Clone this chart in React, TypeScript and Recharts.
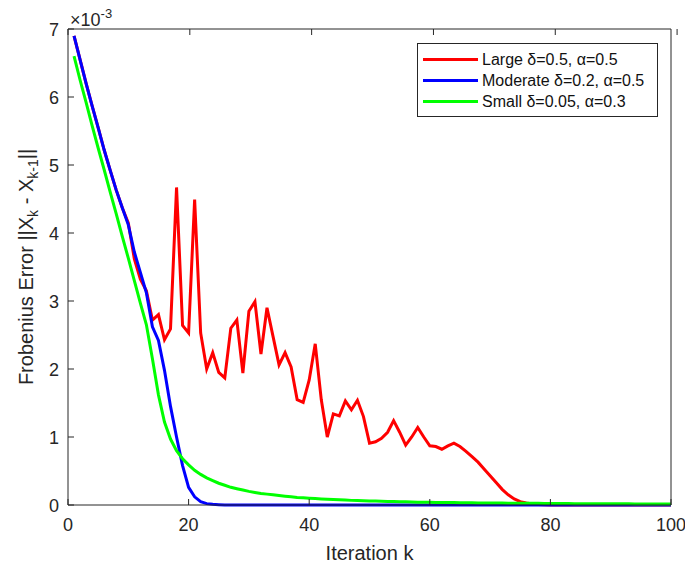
import { LineChart, Line, XAxis, YAxis, Legend } from "recharts"

const iterations = [
  1, 2, 3, 4, 5, 6, 7, 8, 9, 10,
  11, 12, 13, 14, 15, 16, 17, 18, 19, 20,
  21, 22, 23, 24, 25, 26, 27, 28, 29, 30,
  31, 32, 33, 34, 35, 36, 37, 38, 39, 40,
  41, 42, 43, 44, 45, 46, 47, 48, 49, 50,
  51, 52, 53, 54, 55, 56, 57, 58, 59, 60,
  61, 62, 63, 64, 65, 66, 67, 68, 69, 70,
  71, 72, 73, 74, 75, 76, 77, 78, 79, 80,
  81, 82, 83, 84, 85, 86, 87, 88, 89, 90,
  91, 92, 93, 94, 95, 96, 97, 98, 99, 100,
]

// values in units of 1e-3
const large = [
  6.9, 6.55, 6.2, 5.87, 5.55, 5.22, 4.92, 4.63, 4.37, 4.15,
  3.62, 3.32, 3.15, 2.72, 2.8, 2.43, 2.59, 4.67, 2.64, 2.53,
  4.49, 2.53, 2.0, 2.24, 1.95, 1.87, 2.6, 2.72, 1.94, 2.85,
  2.99, 2.22, 2.9, 2.48, 2.06, 2.24, 2.03, 1.55, 1.51, 1.84,
  2.37, 1.55, 1.0, 1.34, 1.31, 1.53, 1.4, 1.54, 1.3, 0.91,
  0.93, 0.98, 1.07, 1.24, 1.07, 0.88, 1.0, 1.14, 1.0, 0.87,
  0.86, 0.82, 0.87, 0.91, 0.86, 0.79, 0.71, 0.63, 0.53, 0.43,
  0.33, 0.23, 0.15, 0.09, 0.05, 0.03, 0.015, 0.008, 0.004, 0,
  0, 0, 0, 0, 0, 0, 0, 0, 0, 0,
  0, 0, 0, 0, 0, 0, 0, 0, 0, 0,
]

const moderate = [
  6.9, 6.55, 6.2, 5.87, 5.55, 5.22, 4.92, 4.63, 4.37, 4.12,
  3.72, 3.42, 3.12, 2.62, 2.42, 1.98, 1.45, 1.0, 0.58, 0.26,
  0.12, 0.05, 0.02, 0.01, 0.005, 0, 0, 0, 0, 0,
  0, 0, 0, 0, 0, 0, 0, 0, 0, 0,
  0, 0, 0, 0, 0, 0, 0, 0, 0, 0,
  0, 0, 0, 0, 0, 0, 0, 0, 0, 0,
  0, 0, 0, 0, 0, 0, 0, 0, 0, 0,
  0, 0, 0, 0, 0, 0, 0, 0, 0, 0,
  0, 0, 0, 0, 0, 0, 0, 0, 0, 0,
  0, 0, 0, 0, 0, 0, 0, 0, 0, 0,
]

const small = [
  6.6, 6.25, 5.92, 5.58, 5.25, 4.93, 4.6, 4.28, 3.95, 3.63,
  3.3, 2.97, 2.65, 2.15, 1.62, 1.22, 0.97, 0.8, 0.68, 0.59,
  0.51, 0.45, 0.4, 0.36, 0.32, 0.29, 0.26, 0.24, 0.22, 0.2,
  0.185, 0.17, 0.16, 0.15, 0.14, 0.13, 0.12, 0.11, 0.105, 0.1,
  0.095, 0.09, 0.085, 0.08, 0.076, 0.072, 0.068, 0.065, 0.062, 0.06,
  0.057, 0.055, 0.052, 0.05, 0.048, 0.046, 0.044, 0.042, 0.041, 0.04,
  0.038, 0.037, 0.036, 0.035, 0.034, 0.033, 0.032, 0.031, 0.03, 0.03,
  0.029, 0.028, 0.027, 0.026, 0.026, 0.025, 0.024, 0.024, 0.023, 0.022,
  0.022, 0.021, 0.021, 0.02, 0.02, 0.019, 0.019, 0.018, 0.018, 0.018,
  0.017, 0.017, 0.017, 0.016, 0.016, 0.016, 0.016, 0.015, 0.015, 0.015,
]

const xTicks = [0, 20, 40, 60, 80, 100]
const yTicks = [0, 1, 2, 3, 4, 5, 6, 7]

const data = iterations.map((k, i) => ({
  k,
  large: large[i],
  moderate: moderate[i],
  small: small[i],
}))

const font = "'Liberation Sans', Arial, Helvetica, sans-serif"
const axisColor = "#262626"

const BottomTick = (props: any) => {
  const { x, y, payload } = props
  return (
    <g>
      <line x1={x} x2={x} y1={y} y2={y - 6} stroke={axisColor} />
      <text x={x} y={y + 26} textAnchor="middle" fontSize={18} fontFamily={font} fill={axisColor}>
        {payload.value}
      </text>
    </g>
  )
}

const TopTick = (props: any) => {
  const { x, y } = props
  return <line x1={x} x2={x} y1={y} y2={y + 6} stroke={axisColor} />
}

const LeftTick = (props: any) => {
  const { x, y, payload } = props
  return (
    <g>
      <line x1={x} x2={x + 6} y1={y} y2={y} stroke={axisColor} />
      <text x={x - 9} y={y + 6.5} textAnchor="end" fontSize={18} fontFamily={font} fill={axisColor}>
        {payload.value}
      </text>
    </g>
  )
}

const RightTick = (props: any) => {
  const { x, y } = props
  return <line x1={x} x2={x - 6} y1={y} y2={y} stroke={axisColor} />
}

const yTitle = (props: any) => {
  const { viewBox } = props
  const bx = viewBox.x + 15
  const cy = viewBox.y + viewBox.height / 2
  return (
    <text
      x={bx}
      y={cy}
      transform={`rotate(-90, ${bx}, ${cy})`}
      textAnchor="middle"
      fontSize={20}
      fontFamily={font}
      fill={axisColor}
    >
      Frobenius Error ||X
      <tspan fontSize={14} dy={5}>k</tspan>
      <tspan dy={-5}> - X</tspan>
      <tspan fontSize={14} dy={5}>k-1</tspan>
      <tspan dy={-5}>||</tspan>
    </text>
  )
}

const xTitle = (props: any) => {
  const { viewBox } = props
  return (
    <text
      x={viewBox.x + viewBox.width / 2}
      y={viewBox.y + 55}
      textAnchor="middle"
      fontSize={20}
      fontFamily={font}
      fill={axisColor}
    >
      Iteration k
    </text>
  )
}

const exponent = (props: any) => {
  const { viewBox } = props
  return (
    <text x={viewBox.x + 2} y={viewBox.y + 2} fontSize={18} fontFamily={font} fill={axisColor}>
      ×10
      <tspan fontSize={13} dy={-8}>-3</tspan>
    </text>
  )
}

const LegendBox = (props: any) => {
  const { payload } = props
  return (
    <div
      style={{
        boxSizing: "border-box",
        width: 241,
        border: `1px solid ${axisColor}`,
        background: "#fff",
        padding: "5px 4px 4px 5px",
        fontFamily: font,
        fontSize: 16,
        color: "#111",
        lineHeight: "21px",
      }}
    >
      {(payload || []).map((p: any) => (
        <div key={p.value} style={{ display: "flex", alignItems: "center" }}>
          <span style={{ display: "inline-block", width: 55, height: 3, background: p.color, marginRight: 4 }} />
          <span>{p.value}</span>
        </div>
      ))}
    </div>
  )
}

export default function App() {
  return (
    <div style={{ position: "absolute", left: 0, top: 0, background: "#fff" }}>
      <LineChart width={685} height={565} data={data} margin={{ top: 24, right: 10, bottom: 30, left: 18 }}>
        <XAxis
          dataKey="k"
          type="number"
          domain={[0, 100]}
          ticks={xTicks}
          interval={0}
          height={30}
          tickSize={0}
          tickMargin={0}
          tickLine={false}
          tick={<BottomTick />}
          stroke={axisColor}
          label={{ content: xTitle }}
        />
        <XAxis
          xAxisId="top"
          orientation="top"
          type="number"
          domain={[0, 100]}
          ticks={xTicks}
          interval={0}
          height={5}
          tickSize={0}
          tickMargin={0}
          tickLine={false}
          tick={<TopTick />}
          stroke={axisColor}
          label={{ content: exponent }}
        />
        <YAxis
          type="number"
          domain={[0, 7]}
          ticks={yTicks}
          interval={0}
          width={50}
          tickSize={0}
          tickMargin={0}
          tickLine={false}
          tick={<LeftTick />}
          stroke={axisColor}
          label={{ content: yTitle }}
        />
        <YAxis
          yAxisId="right"
          orientation="right"
          type="number"
          domain={[0, 7]}
          ticks={yTicks}
          interval={0}
          width={4}
          tickSize={0}
          tickMargin={0}
          tickLine={false}
          tick={<RightTick />}
          stroke={axisColor}
        />
        <Legend
          layout="vertical"
          align="center"
          verticalAlign="middle"
          content={<LegendBox />}
          wrapperStyle={{ top: 43, left: 417, width: 241 }}
        />
        <Line
          dataKey="large"
          name="Large δ=0.5, α=0.5"
          stroke="#ff0000"
          strokeWidth={3}
          dot={false}
          activeDot={false}
          isAnimationActive={false}
        />
        <Line
          dataKey="moderate"
          name="Moderate δ=0.2, α=0.5"
          stroke="#0000ff"
          strokeWidth={3}
          dot={false}
          activeDot={false}
          isAnimationActive={false}
        />
        <Line
          dataKey="small"
          name="Small δ=0.05, α=0.3"
          stroke="#00ff00"
          strokeWidth={3}
          dot={false}
          activeDot={false}
          isAnimationActive={false}
        />
      </LineChart>
    </div>
  )
}
